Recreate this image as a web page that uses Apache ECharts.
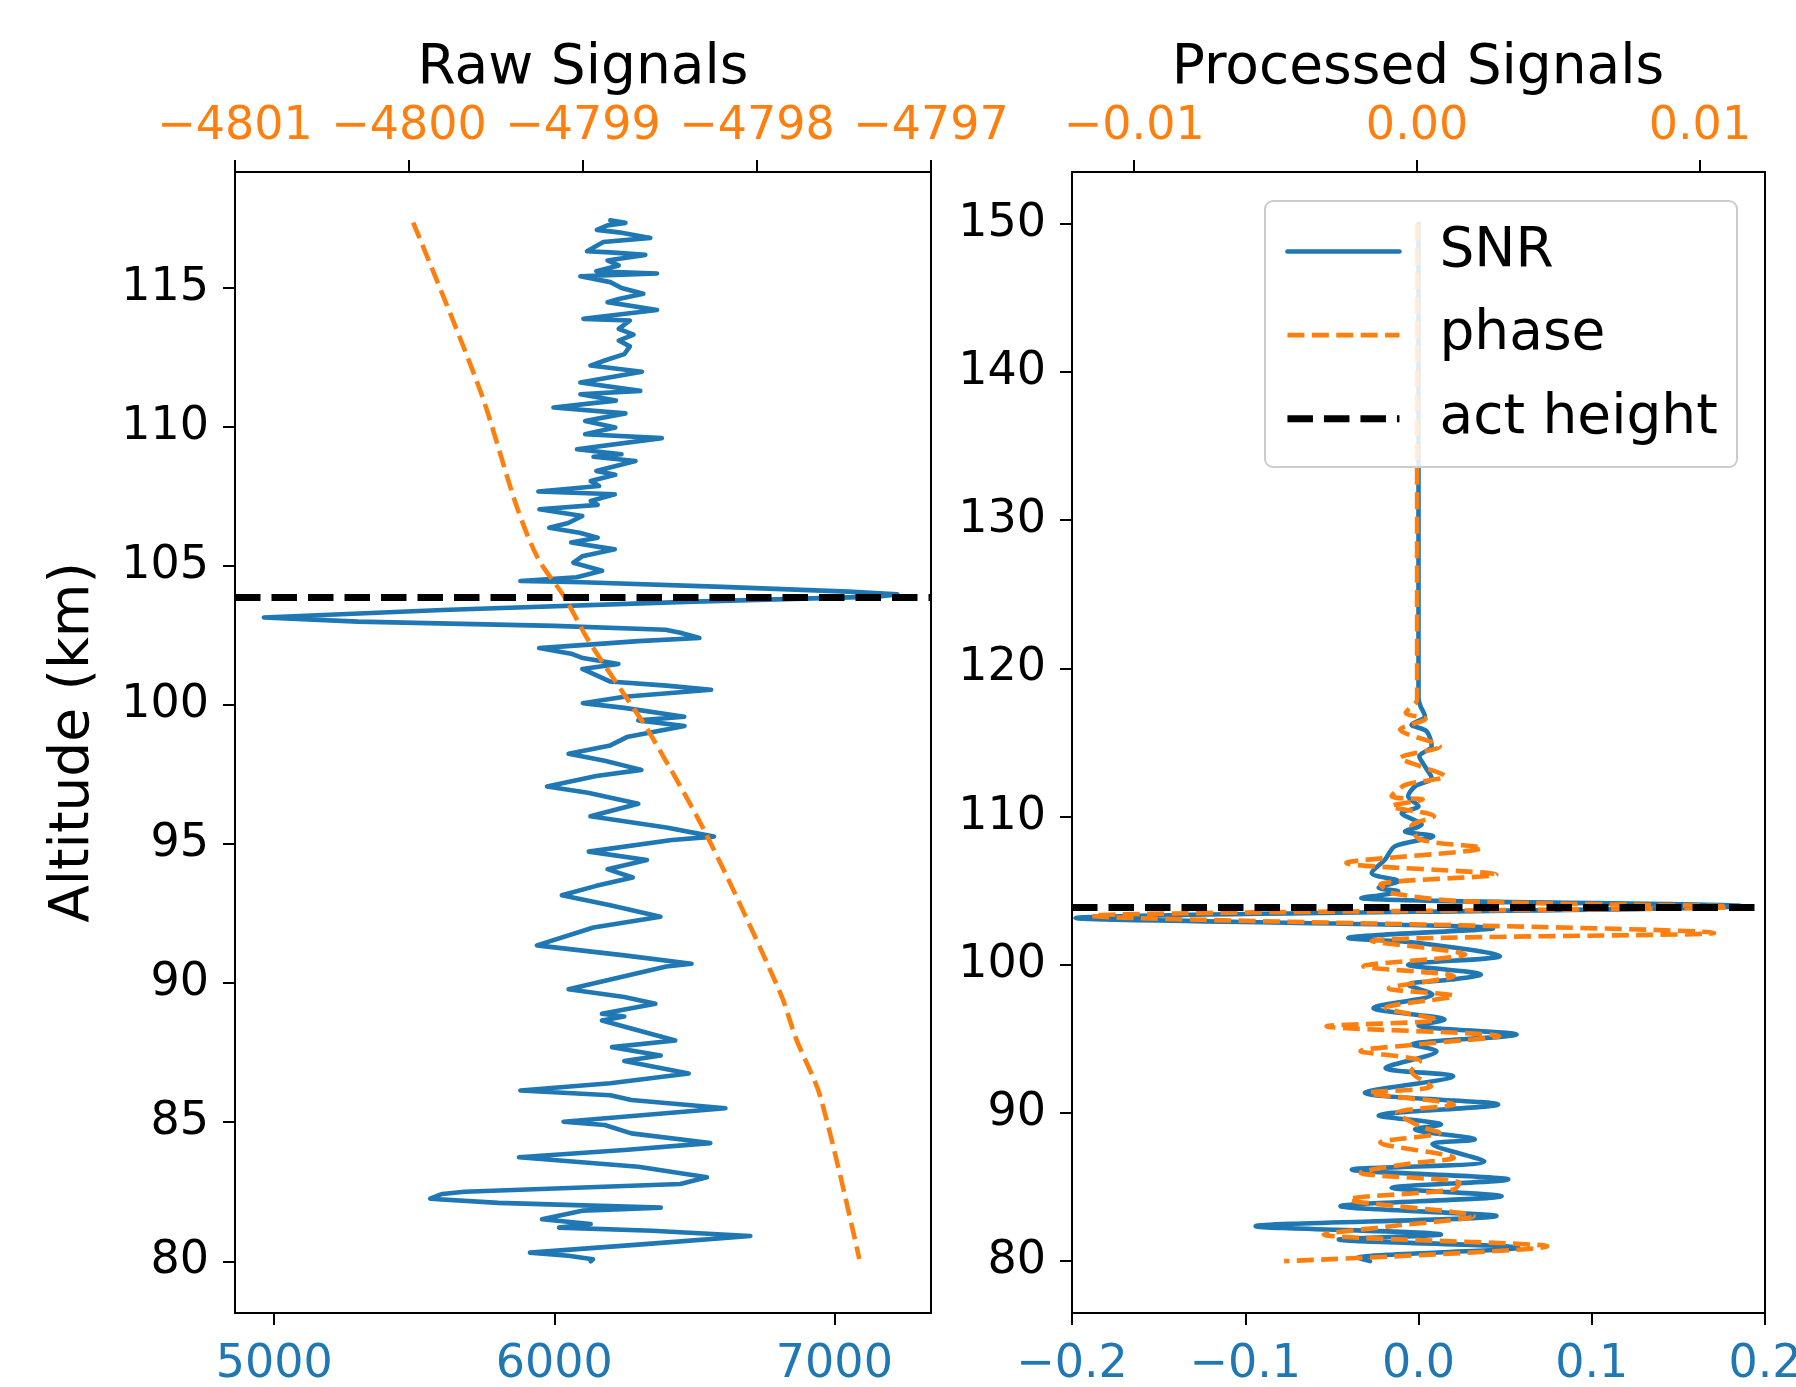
<!DOCTYPE html>
<html>
<head>
<meta charset="utf-8">
<script src="https://cdn.jsdelivr.net/npm/echarts@6/dist/echarts.min.js"></script>
<style>html,body{margin:0;padding:0;background:#fff;}#c{width:1796px;height:1387px;}</style>
</head>
<body>
<div id="c"></div>
<script>
// ---------------- data (value, altitude km) ----------------
const rawSnr = [
[6200,117.43],[6254,117.34],[6190,117.25],[6152,117.09],[6230,117.0],[6343,116.80],[6175,116.65],[6117,116.32],[6200,116.28],[6325,116.19],
[6190,115.99],[6230,115.81],[6150,115.6],[6367,115.52],[6093,115.42],[6200,115.21],[6240,115.0],[6318,114.79],[6230,114.6],[6190,114.49],
[6367,114.21],[6104,113.89],[6270,113.83],[6230,113.53],[6283,113.32],[6230,113.11],[6270,112.9],[6250,112.62],[6180,112.39],[6129,112.21],
[6313,111.99],[6093,111.60],[6307,111.30],[6093,111.18],[6220,110.95],[5997,110.70],[6254,110.49],[6110,110.22],[6218,109.98],[6110,109.74],
[6384,109.60],[6081,109.20],[6240,109.02],[6140,108.93],[6290,108.78],[6150,108.42],[6218,108.28],[6130,108.06],[6160,107.88],[5943,107.68],
[6216,107.58],[6130,107.34],[6155,107.2],[5947,107.04],[6100,106.8],[6050,106.55],[5982,106.38],[6090,106.2],[6155,106.02],[6060,105.85],
[6216,105.60],[6100,105.35],[6068,105.12],[6171,104.83],[6080,104.6],[5879,104.46],[6100,104.42],[6600,104.25],[7050,104.08],[7225,103.98],
[7150,103.9],[6500,103.72],[5600,103.42],[4963,103.15],[5300,103.0],[6000,102.85],[6397,102.71],[6450,102.6],[6518,102.41],[6300,102.3],
[5946,102.05],[6060,101.85],[6102,101.69],[6229,101.48],[6100,101.3],[6198,100.85],[6400,100.7],[6560,100.55],[6250,100.3],[6102,100.07],
[6250,99.9],[6464,99.58],[6300,99.45],[6465,99.25],[6259,98.85],[6200,98.55],[6051,98.25],[6180,98.0],[6311,97.67],[6150,97.45],
[5974,97.07],[6120,96.85],[6300,96.45],[6129,96.0],[6400,95.6],[6570,95.27],[6420,95.15],[6123,94.73],[6331,94.43],[6190,94.1],
[6280,93.8],[6150,93.5],[6027,93.16],[6200,92.8],[6379,92.39],[6140,92.0],[5938,91.36],[6250,91.0],[6490,90.70],[6400,90.6],
[6051,89.78],[6250,89.5],[6361,89.26],[6170,88.9],[6250,88.8],[6170,88.66],[6432,87.94],[6206,87.70],[6380,87.4],[6250,87.2],
[6480,86.75],[6200,86.4],[5879,86.14],[6200,85.97],[6275,85.8],[6611,85.50],[6033,85.02],[6180,84.9],[6275,84.6],[6557,84.25],
[6250,84.0],[5874,83.74],[6300,83.4],[6545,83.02],[6450,82.78],[5680,82.5],[5600,82.42],[5557,82.25],[5800,82.1],[6380,81.93],
[6100,81.82],[5956,81.51],[6130,81.34],[6017,81.21],[6350,81.1],[6700,80.91],[6300,80.6],[5913,80.31],[6050,80.2],[6138,80.07],[6130,80.0]
];
const rawPhase = [
[-4799.976,117.35],[-4799.593,111.35],[-4799.382,107.16],[-4799.259,105.28],[-4799.105,103.87],[-4798.973,102.37],
[-4798.749,100.25],[-4798.618,99.01],[-4798.290,95.33],[-4797.868,89.68],[-4797.775,88.0],[-4797.635,85.9],[-4797.412,80.08]
];
const procSnr = [
[0,150],[0,118.0],[0.001,117.5],[0.0037,116.77],[-0.004,116.2],[0.0047,115.76],[0.0076,114.74],[0.0005,114.07],[0.0037,113.39],[0.0076,112.6],
[-0.002,112.04],[-0.006,111.37],[0,110.7],[-0.0097,110.24],[0.0018,109.46],[-0.0078,109.0],[0.0085,108.67],[-0.0136,108.0],[-0.0193,107.1],[-0.027,106.2],
[-0.0117,105.64],[-0.023,105.19],[-0.0117,104.96],[-0.033,104.51],[0.186,103.97],[-0.198,103.15],[0.043,102.45],[-0.0405,101.81],[0.0,101.47],[0.047,100.58],
[-0.006,100.0],[0.036,99.34],[0.019,99.0],[-0.006,98.66],[0.008,97.99],[-0.026,97.09],[0.015,96.3],[0.0,95.9],[0.0566,95.29],[-0.004,94.62],
[0.0104,94.17],[-0.019,93.04],[0.02,92.48],[-0.031,91.36],[0.046,90.57],[-0.023,89.83],[0.013,89.22],[-0.002,88.9],[0.0325,88.21],[0.008,87.9],
[0.038,86.74],[-0.0385,86.18],[0.0518,85.51],[-0.0155,84.95],[0.048,84.39],[-0.045,83.71],[0.045,83.04],[-0.094,82.36],[0.013,81.8],[-0.046,81.46],
[0.0576,80.9],[-0.035,80.22],[-0.028,80.0]
];
const procPhase = [
[0,150],[0,117.9],[-0.0004,117.0],[0.0003,116.6],[-0.0006,115.87],[0.0008,114.74],[-0.0006,113.95],[0.0001,113.4],[0.001,112.72],[-0.0004,112.15],
[-0.0009,111.37],[0.0002,111.15],[-0.0009,110.7],[0.0006,110.02],[-0.0002,109.35],[0.0001,108.45],[0.0023,107.89],[-0.0025,106.87],[0.0028,106.08],[-0.0013,105.41],
[-0.0009,104.85],[0.0017,104.28],[0.01144,103.92],[-0.0115,103.3],[0.0105,102.14],[-0.0016,101.59],[0.0017,100.69],[-0.0019,99.9],[0.0013,99.23],[-0.001,98.4],
[0.0013,97.9],[-0.0011,97.09],[0.0007,96.3],[-0.0032,95.85],[0.0029,95.18],[0.0,94.62],[-0.002,94.17],[0.0001,93.49],[-0.0002,92.82],[0.0005,91.8],
[-0.0017,91.36],[0.0013,90.57],[-0.0007,90.0],[0.0001,89.1],[0.0008,88.66],[-0.0013,88.0],[0.0013,86.97],[-0.0002,86.6],[-0.002,85.96],[0.0015,85.28],
[0.0013,84.83],[-0.0024,84.16],[0.002,83.04],[-0.0009,82.36],[-0.0033,81.8],[0.0046,81.0],[-0.0047,80.0]
];
const actHeight = 103.87;

// ---------------- ticks ----------------
const rawSnrTicks = [5000, 6000, 7000];
const rawPhaseTicks = [-4801, -4800, -4799, -4798, -4797];
const rawAltTicks = [80, 85, 90, 95, 100, 105, 110, 115];
const procSnrTicks = [-0.2, -0.1, 0.0, 0.1, 0.2];
const procPhaseTicks = [-0.01, 0.0, 0.01];
const procAltTicks = [80, 90, 100, 110, 120, 130, 140, 150];
const titles = ['Raw Signals', 'Processed Signals'];

// ---------------- styling ----------------
const BLUE = '#1f77b4', ORANGE = '#ff7f0e';
const FONT = 'DejaVu Sans';
const TICK_FS = 46;
const BIG_FS = 55;
function fmt(d) {
  return function (v) {
    const s = Math.abs(v).toFixed(d);
    return (v < -1e-12 ? '\u2212' : '') + s;
  };
}
function xAx(grid, pos, min, max, ticks, color, dec, margin) {
  return {
    type: 'value', gridIndex: grid, position: pos, min: min, max: max,
    axisLine: {show: true, onZero: false, lineStyle: {color: '#000', width: 2}},
    axisTick: {show: true, inside: false, length: 12, lineStyle: {color: '#000', width: 2}, customValues: ticks},
    axisLabel: {show: true, color: color, fontSize: TICK_FS, fontFamily: FONT, margin: margin,
      customValues: ticks, formatter: fmt(dec)},
    splitLine: {show: false}
  };
}
function yAx(grid, min, max, ticks, extra) {
  return Object.assign({
    type: 'value', gridIndex: grid, position: 'left', min: min, max: max,
    axisLine: {show: true, onZero: false, lineStyle: {color: '#000', width: 2}},
    axisTick: {show: true, inside: false, length: 12, lineStyle: {color: '#000', width: 2}, customValues: ticks},
    axisLabel: {show: true, color: '#000', fontSize: TICK_FS, fontFamily: FONT, margin: 26,
      customValues: ticks, formatter: fmt(0)},
    splitLine: {show: false}
  }, extra || {});
}
const lineBase = {type: 'line', symbol: 'none', showSymbol: false, animation: false, clip: true, silent: true};
function snrSeries(xi, yi, data, smooth) {
  return Object.assign({}, lineBase, {name: 'SNR', xAxisIndex: xi, yAxisIndex: yi, data: data, z: 2, smooth: smooth,
    lineStyle: {color: BLUE, width: 4.6, join: 'round', cap: 'round'}, itemStyle: {color: BLUE}});
}
function phaseSeries(xi, yi, data, smooth) {
  return Object.assign({}, lineBase, {name: 'phase', xAxisIndex: xi, yAxisIndex: yi, data: data, z: 4, smooth: smooth,
    lineStyle: {color: ORANGE, width: 4.6, type: [17, 7.4], join: 'round'}, itemStyle: {color: ORANGE}});
}
function actSeries(xi, yi) {
  return Object.assign({}, lineBase, {name: 'act height', xAxisIndex: xi, yAxisIndex: yi, data: [], z: 3,
    lineStyle: {color: '#000', width: 6.9, type: [25.5, 11]}, itemStyle: {color: '#000'},
    markLine: {silent: true, symbol: 'none', animation: false, label: {show: false},
      lineStyle: {color: '#000', width: 6.9, type: [25.5, 11]}, data: [{yAxis: actHeight}]}});
}

const chart = echarts.init(document.getElementById('c'), null, {renderer: 'canvas'});
const gridBase = {show: true, borderColor: '#000', borderWidth: 2, backgroundColor: 'transparent', containLabel: false, outerBoundsMode: 'none'};
chart.setOption({
  backgroundColor: '#fff',
  animation: false,
  textStyle: {fontFamily: FONT},
  title: [
    {text: titles[0], left: 583, top: 41, textAlign: 'center', padding: 0,
      textStyle: {fontSize: BIG_FS, fontWeight: 'normal', color: '#000', fontFamily: FONT}},
    {text: titles[1], left: 1418, top: 41, textAlign: 'center', padding: 0,
      textStyle: {fontSize: BIG_FS, fontWeight: 'normal', color: '#000', fontFamily: FONT}}
  ],
  grid: [
    Object.assign({left: 235, top: 172, width: 696, height: 1141}, gridBase),
    Object.assign({left: 1072, top: 172, width: 693, height: 1141}, gridBase)
  ],
  xAxis: [
    xAx(0, 'bottom', 4860, 7345, rawSnrTicks, BLUE, 0, 29),
    xAx(0, 'top', -4801, -4797, rawPhaseTicks, ORANGE, 0, 22),
    xAx(1, 'bottom', -0.2, 0.2, procSnrTicks, BLUE, 1, 29),
    xAx(1, 'top', -0.0122, 0.0123, procPhaseTicks, ORANGE, 2, 22)
  ],
  yAxis: [
    yAx(0, 78.14, 119.17, rawAltTicks, {name: 'Altitude (km)', nameLocation: 'middle', nameGap: 134,
      nameTextStyle: {fontSize: BIG_FS, color: '#000', fontFamily: FONT}}),
    yAx(1, 76.5, 153.5, procAltTicks)
  ],
  graphic: {
    elements: [{
      type: 'rect', x: 1265, y: 201, z: 50, zlevel: 2, silent: true,
      shape: {x: 0, y: 0, width: 472, height: 266, r: 8},
      style: {fill: 'rgba(255,255,255,0.85)', stroke: '#cccccc', lineWidth: 2}
    }]
  },
  legend: {
    show: true, orient: 'vertical', left: 1265, top: 201, z: 60, zlevel: 3,
    data: ['SNR', 'phase', 'act height'],
    itemWidth: 112, itemHeight: 20, itemGap: 28.6,
    padding: [23, 24, 23, 19],
    backgroundColor: 'transparent', borderWidth: 0,
    itemStyle: {opacity: 0},
    lineStyle: {width: 'inherit'},
    textStyle: {fontSize: BIG_FS, color: '#000', fontFamily: FONT, lineHeight: 55, padding: [0, 0, 0, 35]},
    selectedMode: false
  },
  series: [
    snrSeries(0, 0, rawSnr, false),
    actSeries(0, 0),
    phaseSeries(1, 0, rawPhase, 0.3),
    snrSeries(2, 1, procSnr, 0.3),
    actSeries(2, 1),
    phaseSeries(3, 1, procPhase, 0.3)
  ]
});
</script>
</body>
</html>
